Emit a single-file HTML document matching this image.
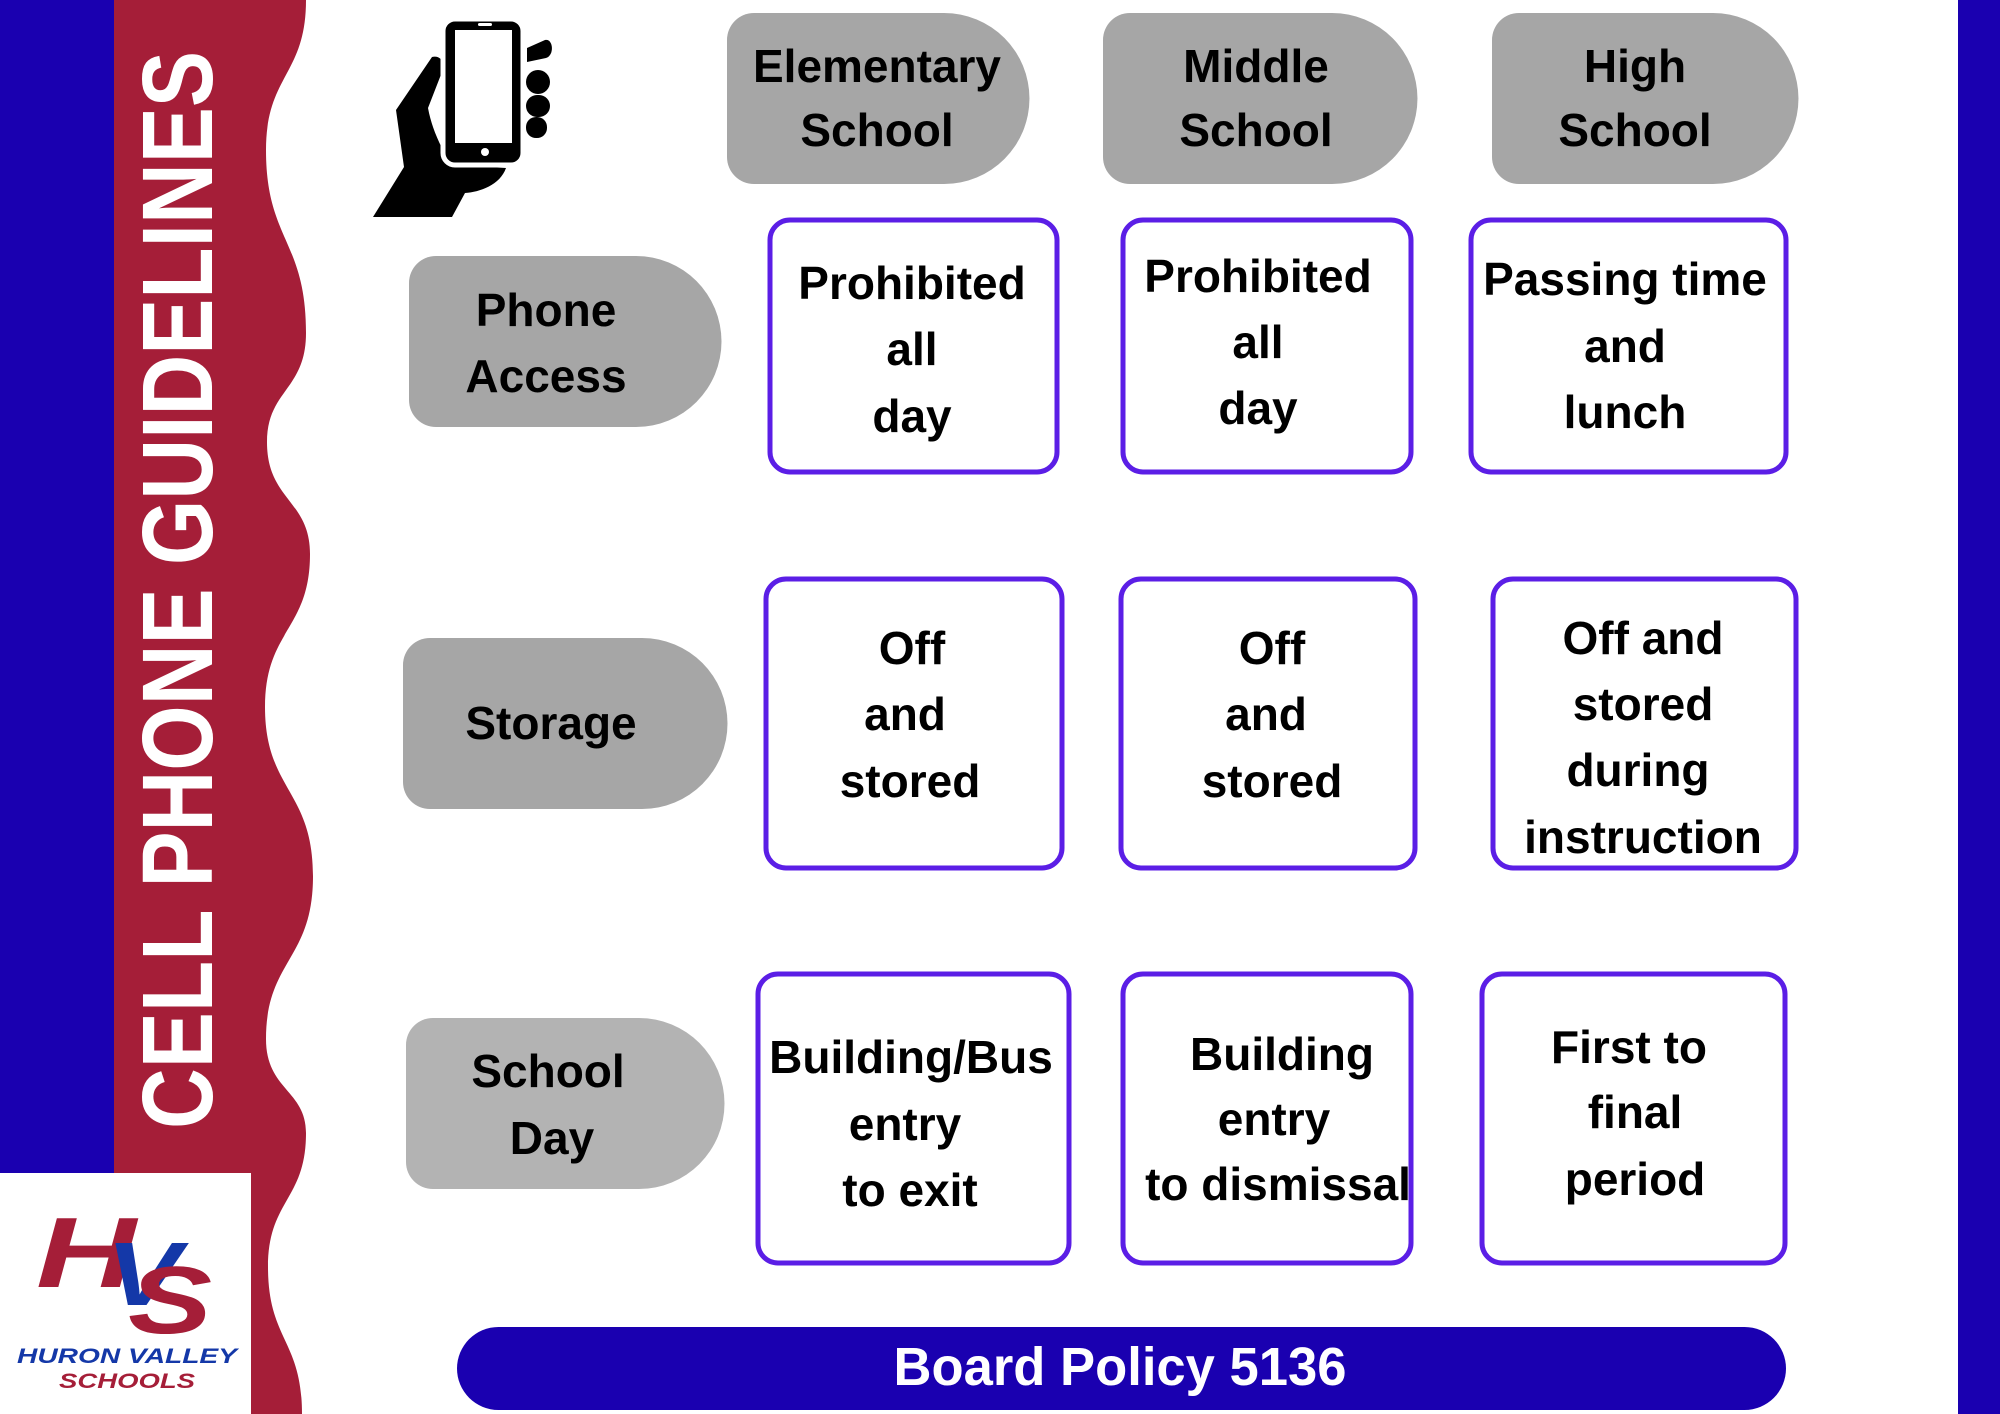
<!DOCTYPE html>
<html><head><meta charset="utf-8"><style>
html,body{margin:0;padding:0;background:#fff;}
svg{display:block;}
text{font-family:"Liberation Sans",sans-serif;font-weight:bold;}
</style></head><body>
<svg width="2000" height="1414" viewBox="0 0 2000 1414" xmlns="http://www.w3.org/2000/svg">
<rect width="2000" height="1414" fill="#fff"/>
<!-- left blue strip -->
<rect x="0" y="0" width="116" height="1414" fill="#1a00b0"/>
<!-- red wave band -->
<path fill="#a51e38" d="M114,0 L306,0 C306,75 266,75 266,150 C266,240 306,240 306,333 C306,390 267,390 267,442 C267,500 310,500 310,554 C310,630 265,630 265,707 C265,790 313,790 313,876 C313,960 266,960 266,1039 C266,1090 306,1090 306,1133 C306,1200 268,1200 268,1267 C268,1340 302,1340 302,1414 L114,1414 Z"/>
<!-- right blue strip -->
<rect x="1958" y="0" width="42" height="1414" fill="#1a00b0"/>
<!-- vertical title -->
<text transform="translate(212,1129) rotate(-90)" font-size="100" fill="#fff" textLength="1078" lengthAdjust="spacingAndGlyphs" style="font-weight:900">CELL PHONE GUIDELINES</text>
<!-- logo box -->
<rect x="0" y="1173" width="251" height="241" fill="#fff"/>
<g font-style="italic">
<text x="36" y="1287" font-size="100" fill="#a51e38" textLength="100" lengthAdjust="spacingAndGlyphs">H</text>
<text x="106" y="1305" font-size="90" fill="#1438a8" textLength="75" lengthAdjust="spacingAndGlyphs">V</text>
<text x="128" y="1333" font-size="96" fill="#a51e38" textLength="84" lengthAdjust="spacingAndGlyphs">S</text>
<text x="17" y="1363" font-size="21" fill="#1438a8" textLength="220" lengthAdjust="spacingAndGlyphs" style="font-weight:900">HURON VALLEY</text>
<text x="59" y="1388" font-size="21" fill="#a51e38" textLength="136" lengthAdjust="spacingAndGlyphs" style="font-weight:900">SCHOOLS</text>
</g>
<!-- phone icon -->
<g>
<path fill="#000" d="M432,57 C440,55 446,62 442,72 L428,108 C432,130 442,150 452,165 L506,168 C500,185 480,192 465,193 L452,217 L373,217 L404,167 L396,110 Z"/>
<rect x="443" y="19" width="80" height="146" rx="12" fill="#000" stroke="#fff" stroke-width="5"/>
<rect x="455" y="30" width="57" height="113" fill="#fff"/>
<circle cx="485" cy="152" r="4" fill="#fff"/>
<rect x="478" y="23" width="14" height="3" rx="1.5" fill="#fff"/>
<path fill="#000" d="M527,48 L545,40 C553,38 555,55 546,58 L527,62 Z"/>
<rect x="526" y="70" width="24" height="24" rx="12" fill="#000"/>
<rect x="526" y="95" width="24" height="22" rx="11" fill="#000"/>
<rect x="526" y="117" width="21" height="21" rx="10" fill="#000"/>
</g>
<!-- grey pills -->
<g fill="#a6a6a6">
<path d="M754,13 H944 A85.5,85.5 0 0 1 944,184 H754 A27,27 0 0 1 727,157 V40 A27,27 0 0 1 754,13 Z"/>
<path d="M1130,13 H1332 A85.5,85.5 0 0 1 1332,184 H1130 A27,27 0 0 1 1103,157 V40 A27,27 0 0 1 1130,13 Z"/>
<path d="M1519,13 H1713 A85.5,85.5 0 0 1 1713,184 H1519 A27,27 0 0 1 1492,157 V40 A27,27 0 0 1 1519,13 Z"/>
<path d="M436,256 H636 A85.5,85.5 0 0 1 636,427 H436 A27,27 0 0 1 409,400 V283 A27,27 0 0 1 436,256 Z"/>
<path d="M430,638 H642 A85.5,85.5 0 0 1 642,809 H430 A27,27 0 0 1 403,782 V665 A27,27 0 0 1 430,638 Z"/>
<path fill="#b3b3b3" d="M433,1018 H639 A85.5,85.5 0 0 1 639,1189 H433 A27,27 0 0 1 406,1162 V1045 A27,27 0 0 1 433,1018 Z"/>
</g>
<!-- boxes -->
<g fill="#fff" stroke="#5b1ee6" stroke-width="5">
<rect x="770" y="220" width="287" height="252" rx="20"/>
<rect x="1123" y="220" width="288" height="252" rx="20"/>
<rect x="1471" y="220" width="315" height="252" rx="20"/>
<rect x="766" y="579" width="296" height="289" rx="20"/>
<rect x="1121" y="579" width="294" height="289" rx="20"/>
<rect x="1493" y="579" width="303" height="289" rx="20"/>
<rect x="758" y="974" width="311" height="289" rx="20"/>
<rect x="1123" y="974" width="288" height="289" rx="20"/>
<rect x="1482" y="974" width="303" height="289" rx="20"/>
</g>
<!-- texts -->
<g font-size="46" fill="#000" text-anchor="middle" dominant-baseline="central">
<text x="877" y="66">Elementary</text><text x="877" y="130">School</text>
<text x="1256" y="66">Middle</text><text x="1256" y="130">School</text>
<text x="1635" y="66">High</text><text x="1635" y="130">School</text>
<text x="546" y="310">Phone</text><text x="546" y="376">Access</text>
<text x="551" y="723">Storage</text>
<text x="548" y="1071">School</text><text x="552" y="1138">Day</text>

<text x="912" y="283">Prohibited</text><text x="912" y="349">all</text><text x="912" y="416">day</text>
<text x="1258" y="276">Prohibited</text><text x="1258" y="342">all</text><text x="1258" y="408">day</text>
<text x="1625" y="279">Passing time</text><text x="1625" y="346">and</text><text x="1625" y="412">lunch</text>

<text x="912" y="648">Off</text><text x="905" y="714">and</text><text x="910" y="781">stored</text>
<text x="1272" y="648">Off</text><text x="1266" y="714">and</text><text x="1272" y="781">stored</text>
<text x="1643" y="638">Off and</text><text x="1643" y="704">stored</text><text x="1638" y="770">during</text><text x="1643" y="837">instruction</text>

<text x="911" y="1057">Building/Bus</text><text x="905" y="1124">entry</text><text x="910" y="1190">to exit</text>
<text x="1282" y="1054">Building</text><text x="1274" y="1119">entry</text><text x="1278" y="1184">to dismissal</text>
<text x="1629" y="1047">First to</text><text x="1635" y="1112">final</text><text x="1635" y="1179">period</text>
</g>
<!-- bottom bar -->
<rect x="457" y="1327" width="1329" height="83" rx="41.5" fill="#1a00b0"/>
<text x="1120" y="1367" font-size="54" fill="#fff" text-anchor="middle" dominant-baseline="central" textLength="453" lengthAdjust="spacingAndGlyphs" style="font-weight:900">Board Policy 5136</text>
</svg>
</body></html>
